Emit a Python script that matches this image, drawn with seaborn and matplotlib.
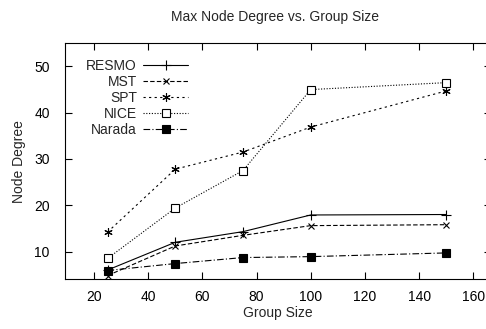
import matplotlib
matplotlib.use("Agg")
import matplotlib.pyplot as plt
import seaborn as sns
import pandas as pd

group_size = [25, 50, 75, 100, 150]
resmo = [6.0, 12.0, 14.3, 17.9, 18.0]
mst = [4.8, 11.2, 13.5, 15.6, 15.8]
spt = [14.2, 27.8, 31.5, 36.9, 44.7]
nice = [8.5, 19.4, 27.5, 45.0, 46.5]
narada = [5.9, 7.4, 8.7, 8.9, 9.7]

series_names = ["RESMO", "MST", "SPT", "NICE", "Narada"]
series_vals = [resmo, mst, spt, nice, narada]

sns.set_theme(style="ticks")
plt.rcParams["font.family"] = ["Liberation Sans", "DejaVu Sans"]

fig = plt.figure(figsize=(4.86, 3.29), dpi=100)
ax = fig.add_axes([65/486, 1-279.3/329, (486-65)/486 + 0.01, (279.3-43.3)/329])

styles = {
    "RESMO": dict(linestyle="-", marker="+", markersize=7),
    "MST": dict(linestyle=(0, (4, 2)), marker="x", markersize=5),
    "SPT": dict(linestyle=(0, (2, 3)), marker=(6, 2, 0), markersize=6),
    "NICE": dict(linestyle=(0, (1, 1.5)), marker="s", markersize=5.5,
                 markerfacecolor="white"),
    "Narada": dict(linestyle=(0, (6, 2, 1, 2)), marker="s", markersize=5.5,
                   markerfacecolor="black"),
}

for name, vals in zip(series_names, series_vals):
    df = pd.DataFrame({"Group Size": group_size, "Node Degree": vals})
    sns.lineplot(data=df, x="Group Size", y="Node Degree", ax=ax, color="black",
                 linewidth=0.8, markeredgecolor="black", markeredgewidth=0.8,
                 label=name, **styles[name])

ax.set_xlim(9.3, 166.5)
ax.set_ylim(4, 55)
ax.set_xticks([20, 40, 60, 80, 100, 120, 140, 160])
ax.set_yticks([10, 20, 30, 40, 50])
ax.tick_params(direction="in", length=5, width=0.8, top=True, right=True,
               labelsize=10, colors="black")
ax.tick_params(axis="x", pad=8)
ax.tick_params(axis="y", pad=11)
for s in ax.spines.values():
    s.set_linewidth(0.8)
    s.set_color("black")
ax.set_xlabel("Group Size", fontsize=10, labelpad=1)
ax.set_ylabel("Node Degree", fontsize=10, labelpad=6)
fig.text(275/486, 1-17/329, "Max Node Degree vs. Group Size", ha="center",
         va="center", fontsize=10)

leg = ax.legend(loc="upper right", bbox_to_anchor=(0.29, 0.935), frameon=False,
                markerfirst=False, fontsize=10, handlelength=3.3, handletextpad=0.4,
                labelspacing=0.15, borderpad=0, borderaxespad=0)

fig.savefig("out.png", dpi=100)
